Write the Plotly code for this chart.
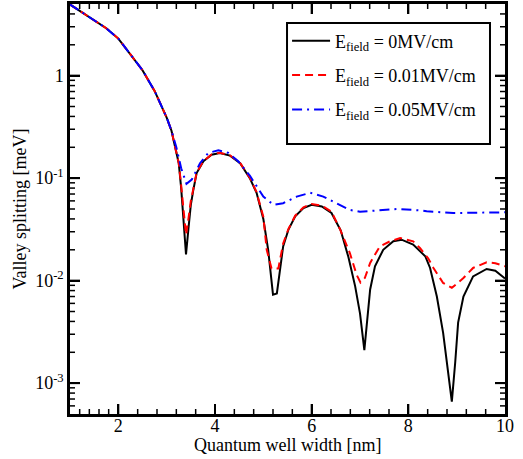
import plotly.graph_objects as go

# ---- data ----
x_e0 = [1.0, 1.25, 1.5, 1.75, 2.0, 2.25, 2.5, 2.75, 3.0, 3.1, 3.2, 3.25, 3.3, 3.35, 3.4,
        3.45, 3.5, 3.55, 3.62, 3.76, 3.93, 4.1, 4.31, 4.52, 4.72, 4.86, 5.0, 5.1, 5.17,
        5.2, 5.28, 5.34, 5.41, 5.52, 5.66, 5.83, 6.0, 6.21, 6.41, 6.6, 6.76, 6.9, 7.0,
        7.09, 7.15, 7.21, 7.31, 7.48, 7.69, 7.86, 8.1, 8.35, 8.45, 8.59, 8.72, 8.83,
        8.9, 8.97, 9.03, 9.14, 9.34, 9.62, 9.8, 10.0]
y_e0 = [4.95, 4.15, 3.5, 2.9, 2.3, 1.62, 1.13, 0.71, 0.39, 0.29, 0.18, 0.14, 0.08, 0.04, 0.018,
        0.032, 0.055, 0.076, 0.112, 0.146, 0.169, 0.176, 0.166, 0.14, 0.1, 0.072, 0.04, 0.02, 0.0095,
        0.0073, 0.0075, 0.0128, 0.0216, 0.0315, 0.0424, 0.051, 0.055, 0.053, 0.0457, 0.031, 0.017, 0.0088, 0.0048,
        0.0021, 0.0042, 0.0082, 0.0138, 0.02, 0.0242, 0.0251, 0.0225, 0.0173, 0.0133, 0.007, 0.0031, 0.00126,
        0.00066, 0.0016, 0.0039, 0.007, 0.011, 0.013, 0.0125, 0.0105]

x_e001 = [1.0, 1.25, 1.5, 1.75, 2.0, 2.25, 2.5, 2.75, 3.0, 3.1, 3.2, 3.25, 3.3, 3.35, 3.4,
          3.45, 3.5, 3.55, 3.62, 3.76, 3.93, 4.1, 4.31, 4.52, 4.72, 4.86, 5.0, 5.07, 5.13,
          5.17, 5.31, 5.38, 5.41, 5.52, 5.66, 5.83, 6.0, 6.21, 6.41, 6.59, 6.79, 6.93, 7.01,
          7.1, 7.21, 7.41, 7.62, 7.83, 8.1, 8.24, 8.41, 8.52, 8.72, 8.9, 9.14, 9.34, 9.62,
          9.8, 10.0]
y_e001 = [4.95, 4.15, 3.5, 2.9, 2.3, 1.62, 1.13, 0.71, 0.39, 0.29, 0.18, 0.14, 0.085, 0.045, 0.028,
          0.04, 0.06, 0.078, 0.113, 0.147, 0.17, 0.177, 0.167, 0.141, 0.101, 0.073, 0.042, 0.02, 0.0149,
          0.0131, 0.0131, 0.02, 0.023, 0.032, 0.043, 0.052, 0.056, 0.054, 0.047, 0.0315, 0.0186, 0.0114, 0.0096,
          0.0106, 0.0149, 0.0216, 0.0242, 0.026, 0.0242, 0.0208, 0.0165, 0.0133, 0.0095, 0.0085, 0.0106, 0.0133, 0.0151,
          0.0148, 0.0138]

x_e005 = [1.0, 1.25, 1.5, 1.75, 2.0, 2.25, 2.5, 2.75, 3.0, 3.1, 3.2, 3.3, 3.41, 3.52, 3.69,
          3.86, 4.07, 4.28, 4.48, 4.72, 4.86, 5.0, 5.21, 5.41, 5.69, 5.97, 6.24, 6.45, 6.79,
          7.0, 7.21, 7.76, 8.24, 8.38, 8.93, 9.5, 10.0]
y_e005 = [4.95, 4.15, 3.5, 2.9, 2.3, 1.62, 1.13, 0.71, 0.39, 0.29, 0.2, 0.125, 0.088, 0.097, 0.14,
          0.176, 0.187, 0.176, 0.146, 0.106, 0.083, 0.066, 0.055, 0.057, 0.066, 0.072, 0.066, 0.059, 0.049,
          0.047, 0.048, 0.05, 0.0485, 0.0475, 0.0457, 0.0462, 0.0464]

names = ["E<sub>field</sub> = 0MV/cm", "E<sub>field</sub> = 0.01MV/cm", "E<sub>field</sub> = 0.05MV/cm"]

x_ticks = [2, 4, 6, 8, 10]
x_minor = [1.2, 1.4, 1.6, 1.8, 2.4, 2.8, 3.2, 3.6, 4.4, 4.8, 5.2, 5.6,
           6.4, 6.8, 7.2, 7.6, 8.4, 8.8, 9.2, 9.6]
y_ticks = [1e-3, 1e-2, 1e-1, 1]
y_ticktext = ["10<sup>-3</sup>", "10<sup>-2</sup>", "10<sup>-1</sup>", "1"]
y_minor = [6e-4, 7e-4, 8e-4, 9e-4,
           2e-3, 3e-3, 4e-3, 5e-3, 6e-3, 7e-3, 8e-3, 9e-3,
           2e-2, 3e-2, 4e-2, 5e-2, 6e-2, 7e-2, 8e-2, 9e-2,
           0.2, 0.3, 0.4, 0.5, 0.6, 0.7, 0.8, 0.9, 2, 3, 4]

FONT = "Liberation Serif"
X_RANGE = [1, 10]
Y_RANGE = [-3.30103, 0.69897]

fig = go.Figure()
fig.add_trace(go.Scatter(x=x_e0, y=y_e0, mode="lines", name=names[0], legendgroup="a",
                         line=dict(color="black", width=2)))
fig.add_trace(go.Scatter(x=x_e001, y=y_e001, mode="lines", name=names[1], legendgroup="b",
                         line=dict(color="red", width=2, dash="8px,5px")))
fig.add_trace(go.Scatter(x=x_e005, y=y_e005, mode="lines", name=names[2], legendgroup="c",
                         line=dict(color="blue", width=2, dash="10px,5px,2px,5px")))

# inward tick marks on all four sides (positioned through the axes, length in pixels)
def x_tick_marks(vals, length, width):
    for v in vals:
        if v >= X_RANGE[1]:
            continue
        for anchor, (a, b) in ((0, (0, length)), (1, (-length, 0))):
            fig.add_shape(type="line", xref="x", yref="paper", ysizemode="pixel",
                          yanchor=anchor, x0=v, x1=v, y0=a, y1=b,
                          line=dict(color="black", width=width))

def y_tick_marks(vals, length, width):
    for v in vals:
        for anchor, (a, b) in ((0, (0, length)), (1, (-length, 0))):
            fig.add_shape(type="line", xref="paper", yref="y", xsizemode="pixel",
                          xanchor=anchor, y0=v, y1=v, x0=a, x1=b,
                          line=dict(color="black", width=width))

x_tick_marks(x_ticks, 10, 2)
x_tick_marks(x_minor, 5, 1.5)
y_tick_marks(y_ticks, 10, 2)
y_tick_marks(y_minor, 5, 1.5)

# legend frame (pixel box 287..490 x 23..144 mapped to paper coords)
fig.add_shape(type="rect", xref="paper", yref="paper",
              x0=0.4989, x1=0.9655, y0=0.6585, y1=0.9537,
              line=dict(color="black", width=2), fillcolor="white", layer="below")

fig.add_annotation(text="Quantum well width [nm]", xref="paper", yref="paper",
                   x=0.5, y=-0.076, xanchor="center", yanchor="middle", showarrow=False,
                   font=dict(family=FONT, size=18, color="black"))

axis_common = dict(showgrid=False, zeroline=False, showline=True, linecolor="black",
                   linewidth=2.5, mirror="ticks", ticks="inside", ticklen=10, tickwidth=2,
                   tickcolor="black", tickfont=dict(family=FONT, size=18, color="black"))

fig.update_layout(
    template="none",
    width=523, height=459,
    margin=dict(l=70, r=18, t=4, b=45),
    paper_bgcolor="white", plot_bgcolor="white",
    font=dict(family=FONT, size=18, color="black"),
    showlegend=True,
    legend=dict(x=0.499, y=0.955, xanchor="left", yanchor="top",
                bgcolor="rgba(0,0,0,0)", borderwidth=0, itemwidth=38,
                font=dict(family=FONT, size=18), tracegroupgap=8),
    xaxis=dict(range=X_RANGE, tickmode="array", tickvals=x_ticks, ticklabelstandoff=-6,
               **axis_common),
    yaxis=dict(type="log", range=Y_RANGE, tickmode="array",
               tickvals=y_ticks, ticktext=y_ticktext,
               title=dict(text="Valley splitting [meV]", font=dict(family=FONT, size=18), standoff=4),
               **axis_common),
)

fig.write_html("out.html", config={"displayModeBar": False},
               post_script="document.body.style.margin='0';")
